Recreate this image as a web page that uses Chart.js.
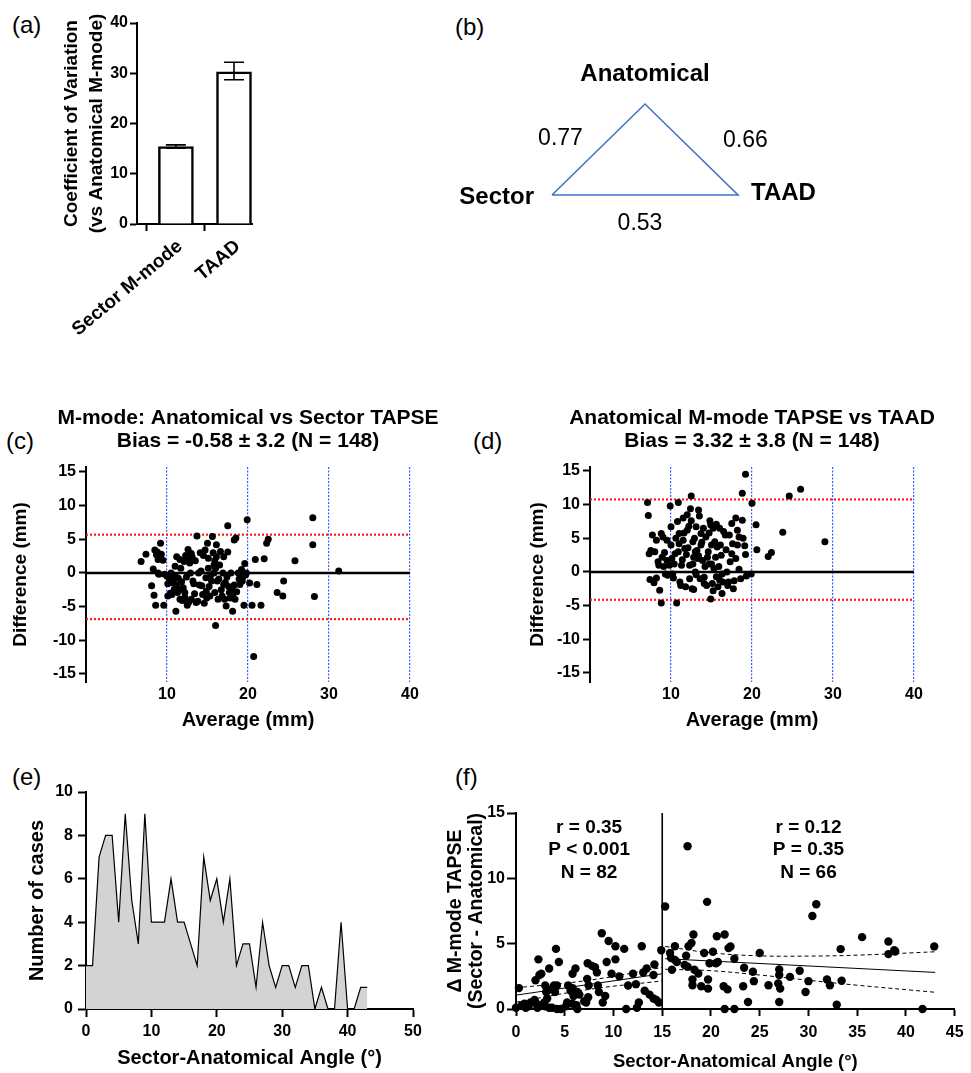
<!DOCTYPE html>
<html>
<head>
<meta charset="utf-8">
<title>TAPSE comparison figure</title>
<script src="https://cdn.jsdelivr.net/npm/chart.js@4.4.1/dist/chart.umd.min.js"></script>
<style>
  body { margin: 0; background: #fff; width: 971px; height: 1073px; position: relative; overflow: hidden;
         font-family: "Liberation Sans", Arial, Helvetica, sans-serif; }
  canvas { position: absolute; }
  .tag { position: absolute; font-size: 24px; line-height: 24px; color: #000; }
</style>
</head>
<body>
<div class="tag" style="left:12px;top:13px">(a)</div>
<div class="tag" style="left:455px;top:15px">(b)</div>
<div class="tag" style="left:6px;top:429px">(c)</div>
<div class="tag" style="left:473px;top:429px">(d)</div>
<div class="tag" style="left:12px;top:765px">(e)</div>
<div class="tag" style="left:455px;top:765px">(f)</div>

<canvas id="chartA" width="270" height="350" style="left:0;top:0"></canvas>
<canvas id="chartB" width="420" height="210" style="left:440px;top:40px"></canvas>
<canvas id="chartC" width="470" height="340" style="left:0;top:400px"></canvas>
<canvas id="chartD" width="460" height="340" style="left:500px;top:400px"></canvas>
<canvas id="chartE" width="470" height="333" style="left:0;top:740px"></canvas>
<canvas id="chartF" width="531" height="333" style="left:440px;top:740px"></canvas>

<script>
// ---------- (a) coefficient of variation ----------
const aCategories = ['Sector M-mode', 'TAAD'];
const aMean = [15.4, 30.3];
const aErrLow = [15.1, 28.7];
const aErrHigh = [15.75, 32.2];
const aYTicks = [0, 10, 20, 30, 40];

// ---------- (b) correlation triangle ----------
const bNodes = ['Sector', 'Anatomical', 'TAAD'];
const bNodeX = [0, 1, 2];
const bNodeY = [0, 1, 0];
const bEdgeFrom = [0, 1, 0];
const bEdgeTo = [1, 2, 2];
const bEdgeR = ['0.77', '0.66', '0.53'];

// ---------- (c) Bland-Altman: anatomical vs sector ----------
const cTitle = ['M-mode: Anatomical vs Sector TAPSE', 'Bias = -0.58 \u00b1 3.2 (N = 148)'];
const cAverage = [6.8, 7.4, 8.1, 8.3, 8.4, 8.6, 8.5, 8.7, 8.9, 9.1, 9.2, 9.3, 8.9, 9.6, 9.7, 10.0, 10.1, 10.4, 10.1, 10.5,
  10.7, 11.0, 11.2, 11.1, 11.2, 11.5, 11.6, 11.7, 11.6, 11.9, 12.1, 12.2, 12.3, 12.5, 12.6, 12.8, 12.9, 13.0, 13.1, 13.2,
  13.4, 13.6, 13.7, 13.9, 14.0, 14.2, 14.4, 14.6, 14.7, 14.85, 15.0, 15.1, 15.1, 15.2, 15.3, 15.5, 15.6, 15.7, 15.8, 15.8,
  15.9, 16.0, 16.1, 16.1, 16.2, 16.3, 16.5, 16.7, 16.9, 17.0, 17.1, 17.3, 17.5, 17.5, 17.6, 17.7, 17.9, 18.1, 18.1, 18.3,
  18.3, 18.5, 18.8, 19.0, 19.2, 19.4, 19.5, 19.6, 19.8, 19.9, 20.2, 20.5, 20.7, 20.9, 21.1, 21.6, 22.0, 22.3, 22.5, 23.6,
  24.3, 24.4, 25.8, 28.0, 28.0, 28.2, 31.2, 9.0, 10.3, 10.8, 11.4, 11.8, 12.4, 12.0, 10.6, 11.3, 12.7, 13.3, 13.5, 13.0,
  14.3, 14.8, 15.4, 16.4, 16.8, 17.2, 17.8, 18.6, 18.9, 19.3, 16.6, 15.9, 14.5, 13.8, 12.2, 11.0, 9.5, 8.8, 17.4, 18.0,
  18.4, 14.1, 16.0, 19.7, 12.6, 10.9, 14.9, 17.0];
const cDifference = [1.7, 2.8, -1.9, 0.6, -3.3, -4.8, 3.4, 2.7, 2.0, 2.5, 4.4, 2.8, 0.0, -4.8, -0.2, -0.5, -3.4, -3.0, -1.6, 0.0,
  -1.0, -0.4, 2.4, -5.7, -1.8, -2.5, 2.0, 0.7, -3.9, -4.1, 1.7, -2.9, 2.6, -4.8, 3.5, 1.5, 0.0, -3.9, 2.4, -1.2,
  -3.1, -4.4, 5.5, 0.0, -1.8, 0.3, -3.2, -4.5, 3.4, -2.7, 4.4, 2.2, 0.7, -2.0, -3.4, -1.2, 5.4, 3.0, 1.2, 0.0,
  -2.9, -7.8, 4.2, 2.4, -1.2, -3.9, 1.2, -2.5, 0.0, -1.7, -3.9, -4.9, 7.0, 3.1, -2.0, -2.9, 0.0, -5.7, -3.4, -1.8,
  4.9, 5.2, 0.0, -1.7, 0.5, -0.5, -4.8, 1.4, 0.0, 7.9, -1.5, -4.8, -12.4, 2.0, -1.7, -4.8, 2.1, 4.4, 5.0, -2.9,
  -3.4, -1.2, 1.8, 8.2, 4.2, -3.5, 0.3, -0.2, -0.8, -1.5, -0.8, -1.3, -0.6, -2.2, -3.2, -2.9, -4.3, -1.6, 1.8, 2.9,
  -1.9, -0.7, -0.3, -0.9, -3.4, -1.4, -3.7, -2.8, -0.9, -1.2, 3.2, 1.8, 2.6, -4.2, -3.6, 1.0, 1.9, 3.1, -0.6, -2.4,
  -3.9, 3.0, 0.7, -0.3, 2.0, -2.4, -3.7, 2.4];
const cLimits = [5.69, -6.85];

// ---------- (d) Bland-Altman: anatomical vs TAAD ----------
const dTitle = ['Anatomical M-mode TAPSE vs TAAD', 'Bias = 3.32 \u00b1 3.8 (N = 148)'];
const dAverage = [7.1, 7.2, 7.3, 7.5, 7.4, 7.7, 7.9, 8.2, 8.2, 8.4, 8.6, 8.8, 8.8, 8.9, 9.1, 9.3, 9.5, 9.5, 9.9, 10.0,
  10.0, 10.2, 10.4, 10.5, 10.7, 10.8, 10.9, 11.0, 11.1, 11.3, 11.5, 11.7, 11.8, 12.0, 12.0, 12.3, 12.4, 12.5, 12.6, 12.7,
  12.8, 13.0, 13.1, 13.2, 13.4, 13.7, 13.7, 13.9, 14.1, 14.1, 14.3, 14.5, 14.7, 14.8, 14.9, 15.0, 15.1, 15.2, 15.3, 15.6,
  15.7, 15.8, 16.0, 16.2, 16.3, 16.4, 16.7, 16.9, 17.1, 17.5, 17.5, 17.7, 18.0, 18.2, 18.4, 18.6, 18.8, 18.8, 19.1, 19.2,
  19.2, 19.9, 20.0, 20.5, 20.6, 22.0, 22.4, 23.8, 24.6, 26.0, 29.0, 8.0, 8.5, 9.0, 9.2, 9.8, 10.3, 10.6, 10.9, 11.2,
  11.4, 11.6, 11.9, 12.1, 12.3, 12.5, 12.7, 12.9, 13.0, 13.3, 13.5, 13.6, 13.8, 14.0, 14.2, 14.4, 14.6, 14.7, 15.0, 15.2,
  15.4, 15.5, 15.9, 16.1, 16.3, 16.5, 16.8, 17.0, 17.3, 17.6, 17.8, 18.0, 18.4, 18.9, 19.3, 11.0, 12.2, 10.1, 9.6, 13.1,
  14.9, 16.0, 17.2, 11.5, 12.8, 15.6, 18.2, 13.4];
const dDifference = [10.3, 8.4, 2.7, 3.2, -1.1, 5.5, -1.6, 4.7, -0.9, 1.5, -2.7, -4.6, 5.7, 2.2, 0.8, -0.3, 4.7, 1.7, 9.8, 6.7,
  4.0, -0.3, 1.2, 2.7, -4.6, 7.5, 10.3, 5.7, -1.5, 1.0, 4.7, 3.5, -2.2, 6.2, 8.5, 1.0, 9.4, 11.3, -2.5, 4.5,
  2.2, 0.0, 6.7, 3.2, 9.2, 5.7, 4.0, 1.7, -0.8, -1.7, 5.2, 2.2, 1.2, 7.6, -4.0, 4.0, -1.7, 6.5, 0.5, 7.1,
  3.7, -2.2, 6.5, 2.5, -3.2, -1.5, 5.5, 0.0, -1.5, 2.7, 7.2, -2.5, 8.0, 4.0, 5.2, -1.0, 11.7, 7.7, 3.9, 2.6,
  14.5, -0.3, 10.2, 7.0, 3.3, 2.3, 2.9, 5.9, 11.3, 12.3, 4.5, 3.0, 1.0, 5.2, 2.9, 1.0, -0.9, 5.0, 3.0, -2.0,
  1.8, 5.8, 2.6, 3.6, -1.0, 7.6, 1.2, 5.0, 3.0, 2.0, 8.3, -1.0, 4.4, 6.5, 0.8, -2.0, 3.0, 5.8, 1.2, -2.8,
  4.5, 2.2, 0.8, 4.0, -0.3, 6.0, 3.3, -2.0, 1.5, 4.2, -1.3, 2.0, 0.4, 5.0, -0.6, 4.2, 6.8, 2.0, -0.5, -0.4,
  7.0, -1.2, 5.5, 8.0, -2.6, -0.7, 6.2, 2.4];
const dLimits = [10.77, -4.13];

const baXTicks = [10, 20, 30, 40];
const baYTicks = [-15, -10, -5, 0, 5, 10, 15];

// ---------- (e) angle histogram ----------
const eAngle = [0, 1, 2, 3, 4, 5, 6, 7, 8, 9, 10, 11, 12, 13, 14, 15, 16, 17, 18, 19, 20, 21,
  22, 23, 24, 25, 26, 27, 28, 29, 30, 31, 32, 33, 34, 35, 36, 37, 38, 39, 40, 41, 42, 43];
const eCases = [2, 2, 7, 8, 8, 4, 9, 5, 3, 9, 4, 4, 4, 6, 4, 4, 3, 2, 7, 5, 6, 4,
  6, 2, 3, 3, 1, 4, 2, 1, 2, 2, 1, 2, 2, 0, 1, 0, 0, 4, 0, 0, 1, 1];
const eXTicks = [0, 10, 20, 30, 40, 50];
const eYTicks = [0, 2, 4, 6, 8, 10];

// ---------- (f) delta TAPSE vs angle ----------
const fAngle = [0.0, 0.3, 0.85, 1.0, 1.5, 1.9, 2.0, 2.2, 2.3, 2.4, 2.5, 2.6, 2.9, 3.0, 3.1, 3.2, 3.4, 3.4, 3.7, 3.9,
  4.0, 4.1, 4.2, 4.4, 4.6, 5.25, 5.35, 5.6, 5.8, 5.8, 5.9, 6.1, 6.2, 6.3, 6.3, 7.3, 7.35, 7.45, 7.2, 7.4,
  7.8, 8.1, 8.3, 8.4, 8.5, 8.8, 8.9, 9.15, 9.3, 9.5, 9.8, 10.2, 10.2, 10.6, 11.1, 11.3, 11.5, 12.0, 12.3, 12.4,
  12.6, 12.9, 13.05, 13.2, 13.4, 13.7, 14.1, 14.1, 14.2, 14.4, 14.65, 14.9, 0.6, 1.3, 2.0, 3.0, 3.5, 4.2, 5.1, 5.8,
  6.5, 7.0,
  15.3, 15.8, 15.9, 16.0, 16.3, 16.3, 17.45, 17.3, 17.7, 18.0, 18.2, 17.6, 18.3, 18.7, 18.1, 18.1, 19.0, 19.3, 19.6, 19.85,
  19.7, 19.7, 20.2, 20.5, 20.6, 20.7, 21.3, 21.4, 21.4, 21.7, 21.8, 22.0, 22.4, 22.4, 23.3, 23.4, 23.8, 24.3, 24.4, 25.0,
  25.9, 26.9, 27.0, 27.0, 27.1, 27.0, 28.1, 29.1, 29.7, 30.0, 30.4, 30.8, 31.9, 32.2, 32.9, 33.3, 33.4, 35.5, 38.2, 38.2,
  38.8, 38.9, 41.7, 42.9, 17.6, 16.5];
const fDelta = [0.1, 1.6, 0.4, 0.1, 0.5, 0.7, 2.2, 0.1, 3.8, 2.6, 0.3, 2.7, 0.5, 1.8, 1.3, 0.8, 3.1, 0.1, 0.1, 1.8,
  1.3, 4.6, 0.0, 3.6, 0.0, 0.5, 1.8, 1.4, 2.7, 0.4, 1.0, 3.1, 0.3, 0.0, 1.3, 2.3, 3.5, 1.8, 0.5, 0.9,
  3.3, 3.2, 2.8, 1.8, 1.3, 5.8, 0.5, 1.0, 3.6, 5.2, 2.7, 4.8, 3.8, 2.5, 4.6, 0.0, 1.8, 2.7, 1.9, 0.1,
  0.5, 4.8, 2.8, 1.4, 3.1, 1.1, 0.8, 2.6, 3.4, 0.7, 0.5, 4.5, 0.3, 0.2, 0.5, 0.2, 1.5, 1.8, 0.2, 1.6,
  1.1, 0.6,
  7.84, 4.28, 3.9, 3.0, 4.8, 3.75, 4.07, 3.37, 4.8, 5.05, 5.7, 3.24, 3.0, 2.72, 2.26, 1.82, 1.74, 4.28, 8.2, 3.5,
  2.26, 1.56, 4.38, 3.5, 5.57, 3.6, 1.74, 5.7, 0.0, 1.5, 4.66, 4.79, 0.0, 3.84, 1.74, 3.16, 0.53, 2.85, 2.13, 4.28,
  1.82, 1.95, 2.6, 3.03, 1.56, 0.53, 2.46, 2.93, 1.3, 2.13, 7.12, 8.02, 2.26, 1.82, 0.32, 4.58, 2.16, 5.5, 5.17, 4.2,
  4.5, 4.4, 0.0, 4.79, 12.46, 3.6];
const fLeftFitX = [0, 15];
const fLeftFit = [1.06, 2.7];
const fLeftBandX = [0, 7.5, 15];
const fLeftUpper = [1.62, 2.2, 3.18];
const fLeftLower = [0.52, 1.5, 2.15];
const fRightFitX = [15.3, 43];
const fRightFit = [3.85, 2.8];
const fRightBandX = [15.3, 20, 25, 30, 35, 43];
const fRightUpper = [4.79, 4.3, 4.07, 4.05, 4.12, 4.38];
const fRightLower = [3.04, 2.93, 2.6, 2.2, 1.82, 1.28];
const fSplit = 15;
const fStats = [['r = 0.35', 'P < 0.001', 'N = 82'], ['r = 0.12', 'P = 0.35', 'N = 66']];
const fStatsX = [7.5, 30];
const fStatsY = 13.9;
const fXTicks = [0, 5, 10, 15, 20, 25, 30, 35, 40, 45];
const fYTicks = [0, 5, 10, 15];

// ---------- shared setup ----------
const FONT = '"Liberation Sans", Arial, Helvetica, sans-serif';
Chart.defaults.font.family = FONT;
Chart.defaults.color = '#000';
Chart.defaults.animation = false;
Chart.defaults.responsive = false;
Chart.defaults.devicePixelRatio = 1;
Chart.defaults.plugins.legend.display = false;
Chart.defaults.plugins.tooltip.enabled = false;

const bold = (size, lineHeight) => ({ size, weight: 'bold', lineHeight: lineHeight || 1.2 });
const pts = (xs, ys) => xs.map((x, i) => ({ x, y: ys[i] }));
const hline = (v, x0, x1) => [{ x: x0, y: v }, { x: x1, y: v }];

// fixed-size axis so the plot areas land where the figure has them
function axis(values, side, size, tickLen, pad, fontSize) {
  return {
    afterBuildTicks: s => { s.ticks = values.map(v => ({ value: v })); },
    afterFit: s => { if (side === 'y') s.width = size; else s.height = size; },
    border: { display: true, color: '#000', width: 2 },
    grid: { drawOnChartArea: false, tickLength: tickLen, tickColor: '#000', tickWidth: 2 },
    ticks: { padding: pad, autoSkip: false, maxRotation: 0, color: '#000', font: bold(fontSize) }
  };
}

// multi-line bold heading centred over the plot area
function headerPlugin(lines, firstOffset, gap, size) {
  return {
    id: 'header',
    afterDraw(chart) {
      const { ctx, chartArea } = chart;
      ctx.save();
      ctx.font = 'bold ' + size + 'px ' + FONT;
      ctx.fillStyle = '#000';
      ctx.textAlign = 'center';
      ctx.textBaseline = 'middle';
      const cx = (chartArea.left + chartArea.right) / 2;
      lines.forEach((t, k) => ctx.fillText(t, cx, chartArea.top - firstOffset + k * gap));
      ctx.restore();
    }
  };
}

// ---------- (a) ----------
const errorBars = {
  id: 'errorBars',
  afterDatasetsDraw(chart) {
    const { ctx, scales: { x, y } } = chart;
    ctx.save();
    ctx.strokeStyle = '#000';
    ctx.lineWidth = 1.6;
    aCategories.forEach((c, i) => {
      const px = x.getPixelForValue(i + 1);
      const lo = y.getPixelForValue(aErrLow[i]);
      const hi = y.getPixelForValue(aErrHigh[i]);
      ctx.beginPath();
      ctx.moveTo(px, lo); ctx.lineTo(px, hi);
      ctx.moveTo(px - 10, lo); ctx.lineTo(px + 10, lo);
      ctx.moveTo(px - 10, hi); ctx.lineTo(px + 10, hi);
      ctx.stroke();
    });
    ctx.restore();
  }
};

// slanted category names under the bars
const slantedLabels = {
  id: 'slantedLabels',
  afterDraw(chart) {
    const { ctx, chartArea, scales: { x } } = chart;
    ctx.save();
    ctx.font = 'bold 19px ' + FONT;
    ctx.fillStyle = '#000';
    ctx.textAlign = 'right';
    ctx.textBaseline = 'middle';
    aCategories.forEach((c, i) => {
      ctx.save();
      ctx.translate(x.getPixelForValue(i + 1) + 4, chartArea.bottom + 20);
      ctx.rotate(-40 * Math.PI / 180);
      ctx.fillText(c, 0, 0);
      ctx.restore();
    });
    ctx.restore();
  }
};

new Chart(document.getElementById('chartA'), {
  type: 'bar',
  data: {
    datasets: [{
      data: aCategories.map((c, i) => ({ x: i + 1, y: aMean[i] })),
      backgroundColor: '#fff',
      borderColor: '#000',
      borderWidth: 2.5,
      barThickness: 35
    }]
  },
  options: {
    layout: { padding: { left: 0, right: 18, top: 23, bottom: 6 } },
    scales: {
      x: Object.assign(axis([1, 2], 'x', 120, 7, 2, 17), {
        type: 'linear', min: 0.33, max: 2.31, offset: false,
        ticks: { display: false }
      }),
      y: Object.assign(axis(aYTicks, 'y', 137, 7, 2, 16), {
        min: 0, max: 40,
        title: { display: true, text: ['Coefficient of Variation', '(vs Anatomical M-mode)'],
                 font: bold(19, '25px'), padding: { top: 59.5, bottom: 0 } }
      })
    }
  },
  plugins: [errorBars, slantedLabels]
});

// ---------- (b) ----------
const triangleLabels = {
  id: 'triangleLabels',
  afterDatasetsDraw(chart) {
    const { ctx, scales: { x, y } } = chart;
    const px = i => x.getPixelForValue(bNodeX[i]);
    const py = i => y.getPixelForValue(bNodeY[i]);
    ctx.save();
    ctx.fillStyle = '#000';
    ctx.textBaseline = 'middle';
    ctx.font = 'bold 24px ' + FONT;
    // node names: left node right-aligned, top node above, right node left-aligned
    ctx.textAlign = 'right';  ctx.fillText(bNodes[0], px(0) - 18, py(0) + 2);
    ctx.textAlign = 'center'; ctx.fillText(bNodes[1], px(1), py(1) - 30);
    ctx.textAlign = 'left';   ctx.fillText(bNodes[2], px(2) + 13, py(2) - 2);
    ctx.font = '23px ' + FONT;
    ctx.textAlign = 'center';
    const shift = [[-38, -11], [54, -9], [-5, 29]];
    bEdgeR.forEach((r, k) => {
      const mx = (px(bEdgeFrom[k]) + px(bEdgeTo[k])) / 2;
      const my = (py(bEdgeFrom[k]) + py(bEdgeTo[k])) / 2;
      ctx.fillText(r, mx + shift[k][0], my + shift[k][1]);
    });
    ctx.restore();
  }
};

new Chart(document.getElementById('chartB'), {
  type: 'scatter',
  data: {
    datasets: [{
      data: pts([...bNodeX, bNodeX[0]], [...bNodeY, bNodeY[0]]),
      showLine: true,
      borderColor: '#4472c4',
      borderWidth: 1.6,
      pointRadius: 0,
      tension: 0
    }]
  },
  options: {
    layout: { padding: 0 },
    scales: {
      x: { type: 'linear', display: false, min: -1.2043, max: 3.3118 },
      y: { type: 'linear', display: false, min: -0.6044, max: 1.7033 }
    }
  },
  plugins: [triangleLabels]
});

// ---------- (c) and (d) ----------
function blandAltman(id, title, xs, ys, limits, yMin, yMax, yAxisWidth, titlePad, rightPad) {
  new Chart(document.getElementById(id), {
    type: 'scatter',
    data: {
      datasets: [
        { data: pts(xs, ys), backgroundColor: '#000', borderWidth: 0, pointRadius: 3.5, pointHoverRadius: 3.5 },
        { data: hline(0, 0, 40), showLine: true, borderColor: '#000', borderWidth: 2.5, pointRadius: 0 },
        ...limits.map(v => ({ data: hline(v, 0, 40), showLine: true, borderColor: '#ff1a1a', borderWidth: 2.2,
                              borderDash: [2, 2], pointRadius: 0 }))
      ]
    },
    options: {
      layout: { padding: { left: 0, right: rightPad, top: 67, bottom: 0 } },
      scales: {
        x: Object.assign(axis(baXTicks, 'x', 58, 0, 3.4, 16), {
          min: 0, max: 40,
          border: { display: false, dash: [2, 1.5] },
          grid: { drawOnChartArea: true, drawTicks: false, color: '#3f5bff', lineWidth: 1.2 },
          title: { display: true, text: 'Average (mm)', font: bold(20, '22px'), padding: { top: 0, bottom: 9 } }
        }),
        y: Object.assign(axis(baYTicks, 'y', yAxisWidth, 7, 3, 16), {
          min: yMin, max: yMax,
          title: { display: true, text: 'Difference (mm)', font: bold(19, '22px'), padding: { top: titlePad, bottom: 0 } }
        })
      }
    },
    plugins: [headerPlugin(title, 49, 23, 21)]
  });
}
blandAltman('chartC', cTitle, cAverage, cDifference, cLimits, -16.19, 15.74, 86, 10, 60);
blandAltman('chartD', dTitle, dAverage, dDifference, dLimits, -16.34, 15.59, 90, 27, 46);

// ---------- (e) ----------
new Chart(document.getElementById('chartE'), {
  type: 'line',
  data: {
    datasets: [{
      data: pts(eAngle, eCases),
      fill: 'origin',
      backgroundColor: '#d3d3d3',
      borderColor: '#000',
      borderWidth: 1.2,
      pointRadius: 0,
      tension: 0
    }]
  },
  options: {
    layout: { padding: { left: 0, right: 57, top: 52, bottom: 0 } },
    scales: {
      x: Object.assign(axis(eXTicks, 'x', 64, 8, 5.4, 16), {
        type: 'linear', min: 0, max: 50,
        title: { display: true, text: 'Sector-Anatomical Angle (\u00b0)', font: bold(20, '22px'), padding: { top: 0, bottom: 4 } }
      }),
      y: Object.assign(axis(eYTicks, 'y', 86, 8, 5, 16), {
        min: 0, max: 10,
        title: { display: true, text: 'Number of cases', font: bold(20, '22px'), padding: { top: 26, bottom: 0 } }
      })
    }
  }
});

// ---------- (f) ----------
const statsText = {
  id: 'statsText',
  afterDatasetsDraw(chart) {
    const { ctx, scales: { x, y } } = chart;
    ctx.save();
    ctx.font = 'bold 19px ' + FONT;
    ctx.fillStyle = '#000';
    ctx.textAlign = 'center';
    ctx.textBaseline = 'middle';
    fStats.forEach((lines, i) => {
      lines.forEach((t, k) => ctx.fillText(t, x.getPixelForValue(fStatsX[i]), y.getPixelForValue(fStatsY) + k * 22.5));
    });
    ctx.restore();
  }
};

const thin = { showLine: true, borderColor: '#000', borderWidth: 1, pointRadius: 0 };
const dashed = { showLine: true, borderColor: '#000', borderWidth: 1, borderDash: [4, 3], pointRadius: 0, tension: 0.4 };

new Chart(document.getElementById('chartF'), {
  type: 'scatter',
  data: {
    datasets: [
      { data: pts(fAngle, fDelta), backgroundColor: '#000', borderWidth: 0, pointRadius: 4.2, clip: false },
      { ...thin, data: pts([fSplit, fSplit], [fYTicks[0], fYTicks[fYTicks.length - 1]]), borderWidth: 1.6 },
      { ...thin, data: pts(fLeftFitX, fLeftFit) },
      { ...dashed, data: pts(fLeftBandX, fLeftUpper) },
      { ...dashed, data: pts(fLeftBandX, fLeftLower) },
      { ...thin, data: pts(fRightFitX, fRightFit) },
      { ...dashed, data: pts(fRightBandX, fRightUpper) },
      { ...dashed, data: pts(fRightBandX, fRightLower) }
    ]
  },
  options: {
    layout: { padding: { left: 0, right: 12, top: 73, bottom: 0 } },
    scales: {
      x: Object.assign(axis(fXTicks, 'x', 64, 7, 7.4, 16), {
        min: 0, max: 45,
        title: { display: true, text: 'Sector-Anatomical Angle (\u00b0)', font: bold(18.5, '22px'), padding: { top: 0, bottom: 0 } }
      }),
      y: Object.assign(axis(fYTicks, 'y', 76, 9, 2, 16), {
        min: 0, max: 15,
        title: { display: true, text: ['\u0394 M-mode TAPSE', '(Sector - Anatomical)'], font: bold(19.5, '21px'),
                 padding: { top: 5.5, bottom: 0 } }
      })
    }
  },
  plugins: [statsText]
});
</script>
</body>
</html>
